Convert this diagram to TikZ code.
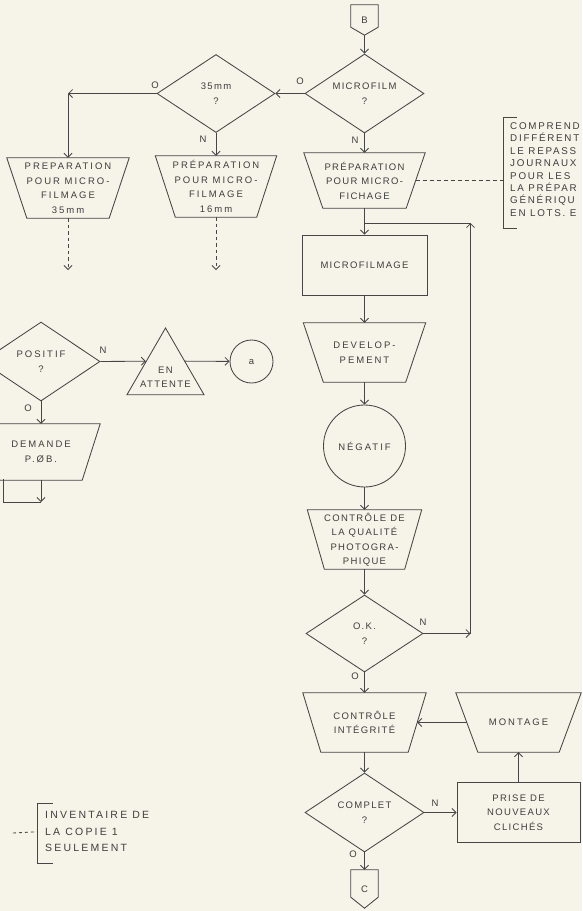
\documentclass[tikz,border=0pt]{standalone}
\usepackage{fontspec}
\setmainfont{Liberation Sans}
\newfontfamily\fmain[LetterSpace=14]{Liberation Sans}
\newfontfamily\fwide[LetterSpace=21]{Liberation Sans}
\newfontfamily\fnote[LetterSpace=18]{Liberation Sans}
\usetikzlibrary{arrows.meta,shapes.geometric,calc}
\definecolor{paper}{RGB}{246,243,232}
\definecolor{ink}{RGB}{70,70,70}
\definecolor{txt}{RGB}{62,62,62}
\newcommand\trapz[2]{\draw[ln] (#1.north west) -- (#1.north east) -- ([xshift=-#2]#1.south east) -- ([xshift=#2]#1.south west) -- cycle;}
\newcommand\offpg[2]{\draw[ln] (#1.north west) -- (#1.north east) -- ([yshift=#2]#1.south east) -- (#1.south) -- ([yshift=#2]#1.south west) -- cycle;}
\begin{document}
\begin{tikzpicture}[x=1pt,y=-1pt,
  ln/.style={draw=ink,line width=0.85pt},
  arr/.style={ln,-{Straight Barb[length=4pt,width=8pt]}},
  txtbase/.style={inner sep=0pt,text=txt,align=center,font=\fmain\fontsize{9.5}{14.5}\selectfont},
  wide/.style={font=\fwide\fontsize{9.5}{14.5}\selectfont},
  dia/.style={txtbase,diamond,ln,aspect=1.5,minimum width=119pt,minimum height=79pt},
  boxn/.style={txtbase,rectangle,ln},
  trapn/.style={txtbase,rectangle},
  circn/.style={txtbase,circle,ln},
  tri/.style={txtbase,regular polygon,regular polygon sides=3,ln,minimum size=89pt},
  lab/.style={inner sep=0pt,text=txt,font=\fontsize{9.5}{10}\selectfont},
  note/.style={inner sep=0pt,text=txt,align=left,anchor=north west,font=\fwide\fontsize{10.5}{12.4}\selectfont},
  dash1/.style={ln,dash pattern=on 3.5pt off 3pt}
]
\fill[paper] (0,0) rectangle (582,911);
\useasboundingbox (0,0) rectangle (582,911);

% main column
\node[trapn,minimum width=27pt,minimum height=30pt] (B) at (364.5,20) {B};
\offpg{B}{8pt}
\node[dia] (microfilm) at (364.5,93.5) {MICROFILM\\?};
\node[trapn,minimum width=121pt,minimum height=55pt] (prepfiche) at (364.5,180.5) {PRÉPARATION\\POUR MICRO-\\FICHAGE};
\trapz{prepfiche}{19pt}
\node[boxn,minimum width=125pt,minimum height=60pt] (microfilmage) at (364.5,265) {MICROFILMAGE};
\node[trapn,wide,minimum width=122pt,minimum height=59pt] (devel) at (364.5,352.5) {DEVELOP-\\PEMENT};
\trapz{devel}{20pt}
\node[circn,wide,minimum size=82pt] (negatif) at (364.5,446) {NÉGATIF};
\node[trapn,minimum width=114pt,minimum height=59pt] (qualite) at (364.5,539.5) {CONTRÔLE DE\\LA QUALITÉ\\PHOTOGRA-\\PHIQUE};
\trapz{qualite}{17pt}
\node[dia,minimum width=117pt,minimum height=77pt] (ok) at (364.5,633.5) {O.K.\\?};
\node[trapn,minimum width=123pt,minimum height=59pt] (integ) at (364.5,722.5) {CONTRÔLE\\INTÉGRITÉ};
\trapz{integ}{18pt}
\node[dia] (complet) at (364.5,812.5) {COMPLET\\?};
\node[trapn,minimum width=27pt,minimum height=38pt] (C) at (364.5,889) {C};
\offpg{C}{11pt}
\node[boxn,minimum width=123pt,minimum height=60pt] (prise) at (518.5,812.5) {PRISE DE\\NOUVEAUX\\CLICHÉS};
\node[trapn,wide,minimum width=125pt,minimum height=59pt] (montage) at (518.5,722.5) {MONTAGE};
\trapz{montage}{22pt}

% left part
\node[dia,minimum width=118pt,minimum height=78pt] (d35) at (216,93.5) {35mm\\?};
\node[trapn,wide,minimum width=122pt,minimum height=60pt] (prep35) at (68,188) {PREPARATION\\POUR MICRO-\\FILMAGE\\35mm};
\trapz{prep35}{20pt}
\node[trapn,wide,minimum width=121pt,minimum height=61pt] (prep16) at (216,186.5) {PRÉPARATION\\POUR MICRO-\\FILMAGE\\16mm};
\trapz{prep16}{20pt}
\node[dia,wide,minimum width=118pt] (positif) at (41,361.5) {POSITIF\\?};
\node[trapn,wide,minimum width=118pt,minimum height=56pt] (demande) at (41,452) {DEMANDE\\P.ØB.};
\trapz{demande}{18pt}
\node[tri] (attente) at (165.5,372.5) {\raisebox{-7.5pt}[0pt][0pt]{\makebox[0pt]{\begin{tabular}{@{}c@{}}EN\\ATTENTE\end{tabular}}}};
\node[circn,minimum size=43pt] (acirc) at (251.5,361.5) {a};

% notes
\node[note,font=\fnote\fontsize{9.8}{12.4}\selectfont] (note1) at (510,122.4) {COMPREND\\DIFFÉRENT\\LE REPASS\\JOURNAUX\\POUR LES\\LA PRÉPAR\\GÉNÉRIQU\\EN LOTS. E};
\draw[ln] ([xshift=7pt,yshift=5.4pt]note1.north west) -- ([xshift=-7pt,yshift=5.4pt]note1.north west) -- ([xshift=-7pt,yshift=-11.6pt]note1.south west) -- ([xshift=7pt,yshift=-11.6pt]note1.south west);
\coordinate (br1) at ([xshift=-7pt]note1.west);
\node[note,font=\fwide\fontsize{10.5}{16.5}\selectfont] (note2) at (45,811.4) {INVENTAIRE DE\\LA COPIE 1\\SEULEMENT};
\draw[ln] ([xshift=8pt,yshift=8.4pt]note2.north west) -- ([xshift=-8pt,yshift=8.4pt]note2.north west) -- ([xshift=-8pt,yshift=-11.4pt]note2.south west) -- ([xshift=8pt,yshift=-11.4pt]note2.south west);
\coordinate (br2) at ([xshift=-8pt]note2.west);
\coordinate (n2free) at (13,833);

% labels
\node[lab] (l1) at (300,81) {O};
\node[lab] (l2) at (355,140) {N};
\node[lab] (l3) at (155,85) {O};
\node[lab] (l4) at (203,139) {N};
\node[lab] (l5) at (103,350) {N};
\node[lab] (l6) at (28,408) {O};
\node[lab] (l7) at (423,622) {N};
\node[lab] (l8) at (355,676) {O};
\node[lab] (l9) at (435,803) {N};
\node[lab] (l10) at (353,854) {O};

% coordinates
\coordinate (looptop) at (470.5,223);
\coordinate (join) at (prepfiche.south |- looptop);
\coordinate (loopbot) at (ok.east -| looptop);
\coordinate (c35) at (prep35.north |- d35.west);
\coordinate (e35) at (68,270);
\coordinate (e16) at (216,270);
\coordinate (dj) at (41,502);
\coordinate (dl) at (3,479);
\coordinate (pfside) at ([xshift=-9.5pt]prepfiche.east);
\coordinate (igside) at ([xshift=-9pt]integ.east);
\coordinate (mgside) at ([xshift=11pt]montage.west);

% connectors
\draw[arr] (B) -- (microfilm);
\draw[arr] (microfilm) -- (prepfiche);
\draw[arr] (microfilm) -- (d35);
\draw[arr] (d35.west) -- (c35);
\draw[arr] (c35) -- (prep35);
\draw[arr] (d35) -- (prep16);
\draw[arr,dash1] (prep35) -- (e35);
\draw[arr,dash1] (prep16) -- (e16);
\draw[arr] (prepfiche) -- (microfilmage);
\draw[arr] (microfilmage) -- (devel);
\draw[arr] (devel) -- (negatif);
\draw[arr] (negatif) -- (qualite);
\draw[arr] (qualite) -- (ok);
\draw[arr] (ok) -- (integ);
\draw[arr] (integ) -- (complet);
\draw[arr] (complet) -- (C);
\draw[arr] (complet) -- (prise);
\draw[arr] (prise) -- (montage);
\draw[arr] (mgside) -- (igside);
\draw[arr] (ok.east) -- (loopbot);
\draw[arr] (loopbot) -- (looptop);
\draw[ln] (looptop) -- (join);
\draw[arr] (positif) -- (demande);
\draw[arr] (positif.east) -- (attente.side 1);
\draw[arr] (attente.side 3) -- (acirc);
\draw[arr] (demande) -- (dj);
\draw[ln] (dl) |- (dj);
\draw[ln,dash pattern=on 4pt off 3pt] (pfside) -- (pfside -| br1);
\draw[ln,dash pattern=on 3pt off 3pt] (n2free) -- (br2);
\end{tikzpicture}
\end{document}
